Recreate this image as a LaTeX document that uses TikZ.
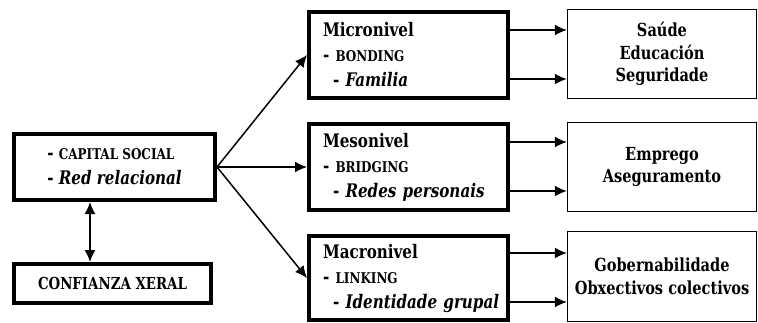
\documentclass[tikz,border=0pt]{standalone}
\usepackage{fontspec}
\setmainfont{DejaVuSerifCondensed}[Extension=.ttf,UprightFont=*,BoldFont=*-Bold,ItalicFont=*-Italic,BoldItalicFont=*-BoldItalic,FakeStretch=0.9]
\usetikzlibrary{arrows.meta}
\newcommand{\smcap}{\fontsize{14.8}{25}\selectfont}

\begin{document}
\begin{tikzpicture}[x=1pt,y=-1pt,
    thickbox/.style={draw,line width=4pt,inner sep=0pt,font=\fontsize{18.7}{25}\selectfont\bfseries},
    levelbox/.style={thickbox,minimum width=199pt,minimum height=86pt,text width=171pt,inner xsep=14pt,align=left},
    thinbox/.style={draw,line width=1.4pt,minimum width=189pt,minimum height=89pt,inner sep=0pt,align=center,font=\fontsize{18}{22.5}\selectfont\bfseries},
    arr/.style={line width=1.5pt,-{Latex[length=12pt,width=11pt]}},
    dblarr/.style={line width=1.5pt,{Latex[length=12pt,width=11pt]}-{Latex[length=12pt,width=11pt]}}]
      \useasboundingbox (0,0) rectangle (758,322);
      \node[thickbox,minimum width=201pt,minimum height=66pt,align=left] (capital) at (114.5,167) {- {\smcap CAPITAL SOCIAL}\\ - \textit{Red relacional}};
      \node[thickbox,minimum width=197pt,minimum height=39pt] (confianza) at (112.5,283.5) {\fontsize{16.5}{20}\selectfont CONFIANZA XERAL};
      \node[levelbox] (micro) at (408.5,55) {Micronivel\\ - {\smcap BONDING}\\ \mbox{\hspace*{10pt}- \textit{Familia}}};
      \node[levelbox] (meso) at (408.5,167) {Mesonivel\\ - {\smcap BRIDGING}\\ \mbox{\hspace*{10pt}- \textit{Redes personais}}};
      \node[levelbox,minimum height=84pt] (macro) at (408.5,278) {Macronivel\\ - {\smcap LINKING}\\ \mbox{\hspace*{10pt}- \textit{Identidade grupal}}};
      \node[thinbox] (saude) at (662,54) {Saúde\\ Educación\\ Seguridade};
      \node[thinbox] (emprego) at (662,167) {Emprego\\ Aseguramento};
      \node[thinbox,minimum height=90pt] (goberna) at (662,276.5) {Gobernabilidade\\ Obxectivos colectivos};
      \coordinate (ax) at (90,0);
      \draw[dblarr] (capital.south -| ax) -- (confianza.north -| ax);
      \draw[arr] (capital.east) -- (micro.west);
      \draw[arr] (capital.east) -- (meso.west);
      \draw[arr] (capital.east) -- (macro.west);
      \draw[arr] ([yshift=25pt]micro.east) -- ([yshift=25pt]micro.east -| saude.west);
      \draw[arr] ([yshift=-24pt]micro.east) -- ([yshift=-24pt]micro.east -| saude.west);
      \draw[arr] ([yshift=25pt]meso.east) -- ([yshift=25pt]meso.east -| emprego.west);
      \draw[arr] ([yshift=-24pt]meso.east) -- ([yshift=-24pt]meso.east -| emprego.west);
      \draw[arr] ([yshift=25pt]macro.east) -- ([yshift=25pt]macro.east -| goberna.west);
      \draw[arr] ([yshift=-24pt]macro.east) -- ([yshift=-24pt]macro.east -| goberna.west);
\end{tikzpicture}
\end{document}
